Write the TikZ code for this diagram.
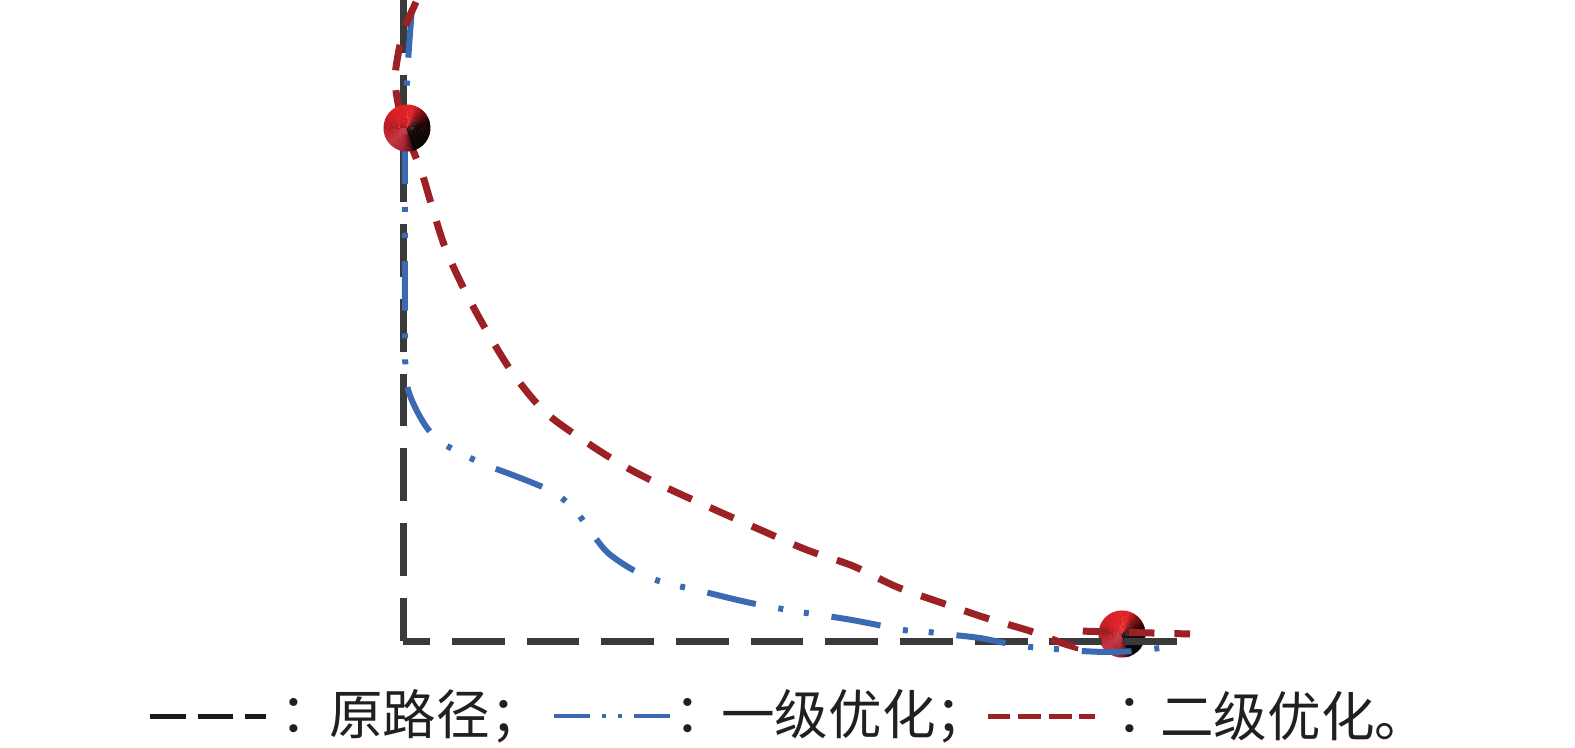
\documentclass[tikz,border=0pt]{standalone}
\usepackage{fontspec}
\newfontfamily\cjk{Noto Sans CJK SC}
\definecolor{pathblack}{HTML}{3A3A3A}
\definecolor{pathblue}{HTML}{3B6AB2}
\definecolor{pathred}{HTML}{9B2124}
\definecolor{legblack}{HTML}{1A1A1A}
\definecolor{txt}{HTML}{231F20}
\definecolor{sK}{HTML}{080808}
\definecolor{sKK}{HTML}{1E0405}
\definecolor{sD}{HTML}{7A0E12}
\definecolor{sR}{HTML}{E2232A}
\definecolor{sB}{HTML}{DC2027}
\definecolor{sM}{HTML}{B71B22}
\definecolor{sL}{HTML}{C3303F}
\definecolor{sP}{HTML}{B02638}
\definecolor{sQ}{HTML}{6E1018}
\newcommand\mysphere[2]{%
  \foreach \a/\b/\ca/\cb in {-70/15/sK/sKK,15/45/sKK/sD,45/75/sD/sR,75/125/sR/sB,125/175/sB/sM,175/220/sM/sL,220/255/sL/sP,255/280/sP/sQ,280/290/sQ/sK}{
    \foreach \i in {0,...,7}{
      \pgfmathsetmacro\s{\a+(\b-\a)*\i/8}
      \pgfmathsetmacro\e{\a+(\b-\a)*(\i+1)/8+1}
      \pgfmathsetmacro\p{100-\i*100/7}
      \fill[\ca!\p!\cb] (#1,#2) -- ++(\s:0.47cm) arc[start angle=\s, end angle=\e, radius=0.47cm] -- cycle;
    }
  }%
}
\begin{document}
\begin{tikzpicture}[x=0.02cm,y=-0.02cm,
  origpath/.style={pathblack, line width=0.14cm, dash pattern=on 30.05pt off 12.47pt},
  firstopt/.style={pathblue, line width=0.12cm, dash pattern=on 28.35pt off 13.04pt on 2.83pt off 11.9pt on 2.83pt off 13.04pt},
  secondopt/.style={pathred, line width=0.14cm, dash pattern=on 14.74pt off 11.34pt},
  lbl/.style={font={\cjk\fontsize{30.5}{32}\selectfont}, text=txt, inner sep=0pt},
  legline/.style={line width=0.1cm},
]
\useasboundingbox (0,0) rectangle (1575,747);
% second sphere (under the paths)
\coordinate (goal) at (1122,634);
\mysphere{1122}{634}
% original path
\coordinate (top) at (403,0);
\coordinate (corner) at (403,641);
\coordinate (endp) at (1177,641);
\draw[origpath] (top) -- (corner);
\draw[origpath, dash phase=14.74pt] (corner) -- (endp);
% first optimisation
\draw[firstopt] plot[smooth, tension=0.5] coordinates {(412,8) (408,63) (405,140) (405,250) (405,350) (407,385) (414,405) (425,425) (438,440) (460,453) (486,465) (510,474) (533,483) (555,493) (575,510) (591,532) (607,552) (628,567) (650,578) (674,585) (701,591) (725,597) (751,603) (777,608) (800,612) (827,616) (852,620) (878,625) (903,630) (928,632) (954,635) (980,638) (1005,643) (1030,647) (1055,649) (1082,651) (1107,652) (1134,651) (1160,648)};
% second optimisation
\draw[secondopt] plot[smooth, tension=0.5] coordinates {(416,2) (408,20) (403,33) (398,55) (395,80) (399,108) (406,128) (413,150) (422,173) (433,210) (446,250) (466,293) (489,335) (514,375) (545,412) (583,440) (624,466) (665,487) (720,512) (763,531) (807,550) (853,566) (897,587) (942,603) (986,618) (1030,631) (1062,643) (1075,647)} -- (1078,631) -- (1190,634);
% first sphere (on top)
\coordinate (start) at (407,128);
\mysphere{407}{128}
% legend
\draw[legline, legblack] (150,716) -- (186,716) (198,716) -- (233,716) (245,716) -- (266,716);
\node[lbl] (c1) at (307,716) {：};
\node[lbl, anchor=west] (t1) at (329,716) {原路径；};
\draw[legline, pathblue, line width=0.085cm] (554,716) -- (590,716) (602,716) -- (606,716) (618,716) -- (622,716) (634,716) -- (670,716);
\node[lbl] (c2) at (701,716) {：};
\node[lbl, anchor=west] (t2) at (721,716) {一级优化；};
\draw[legline, pathred] (988,716) -- (1010,716) (1018,716) -- (1041,716) (1049,716) -- (1072,716) (1079,716) -- (1095,716);
\node[lbl] (c3) at (1143,716) {：};
\node[lbl, anchor=west] (t3) at (1160,716) {二级优化。};
\end{tikzpicture}
\end{document}
